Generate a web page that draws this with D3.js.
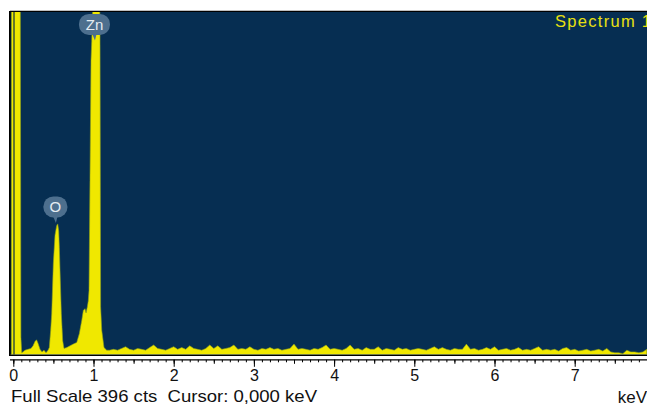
<!DOCTYPE html>
<html>
<head>
<meta charset="utf-8">
<script src="https://cdn.jsdelivr.net/npm/d3@7"></script>
<style>
  body { margin: 0; background: #fff; }
  svg { display: block; }
  text { font-family: "Liberation Sans", Arial, sans-serif; }
</style>
</head>
<body>
<div class="chart"></div>
<script>
// low energy part (keV, counts)
var lowEnergy = [-0.05, -0.024, -0.022, 0.082, 0.095, 0.105, 0.12, 0.146, 0.183, 0.22, 0.246, 0.27, 0.29, 0.308, 0.333, 0.358, 0.383, 0.408, 0.433,
  0.449, 0.466, 0.479, 0.499, 0.52, 0.541, 0.554, 0.566, 0.574, 0.586, 0.599, 0.616, 0.632, 0.666, 0.707, 0.748, 0.791, 0.823, 0.853, 0.873, 0.894, 0.907, 0.923, 0.935,
  0.944, 0.956, 0.969, 0.978, 0.99, 1.025, 1.056, 1.075, 1.081, 1.089, 1.103, 1.131, 1.165];
var lowCounts = [0, 0, 700, 700, 20, 2, 3, 5, 6, 7, 10, 15, 17, 13, 6, 3, 5, 2, 5,
  8, 28, 47, 105, 138, 149, 151, 143, 124, 86, 47, 16, 7, 8, 10, 12, 14, 24, 39, 51, 53, 48, 55, 62,
  74, 201, 340, 362, 400, 560, 480, 420, 380, 55, 28, 8, 5];

// background from 1.20 keV, one value each 0.05 keV
var bgStart = 1.2, bgStep = 0.05;
var bgCounts = [
  5,6,5,7,9,6,5,7,6,5,
  8,11,7,6,5,7,9,6,8,6,
  10,7,6,5,7,11,7,10,6,7,
  8,11,6,7,6,9,6,5,7,6,
  8,6,7,5,6,7,12,6,7,6,
  5,7,6,8,11,6,7,6,5,7,
  11,6,7,5,8,6,6,9,5,7,
  6,5,8,6,7,5,6,7,6,5,
  7,9,6,8,6,5,7,6,6,12,
  6,7,5,6,8,6,9,5,6,7,
  5,6,8,5,6,5,7,9,5,6,
  5,6,4,7,8,5,6,4,5,6,
  4,5,6,4,7,3,2,2,1,5,
  3,3,2,3,6];

// element markers: name, line energy, height the marker sits at
var peakNames = ["O", "Zn"];
var peakEnergies = [0.525, 1.012];
var peakCounts = [151, 362];

var tickLabels = [0, 1, 2, 3, 4, 5, 6, 7];
var fullScale = 396;
var title = "Spectrum 1";
var footer = "Full Scale 396 cts  Cursor: 0,000 keV";

var spectrum = [];
lowEnergy.forEach(function(e, i) { spectrum.push({e: e, c: lowCounts[i]}); });
bgCounts.forEach(function(c, i) { spectrum.push({e: bgStart + i * bgStep, c: c}); });

var width = 647, height = 407;
var plotL = 10, plotT = 12, plotR = 647, plotB = 354.5;

var svg = d3.select(".chart").append("svg").attr("width", width).attr("height", height);

var x = d3.scaleLinear().domain([0, 7]).range([13.3, 574.7]);
var y = d3.scaleLinear().domain([0, fullScale]).range([plotB, plotT]);

svg.append("defs").append("clipPath").attr("id", "plot")
  .append("rect").attr("x", plotL).attr("y", plotT).attr("width", plotR - plotL).attr("height", plotB - plotT);

svg.append("rect")
  .attr("x", plotL).attr("y", plotT).attr("width", plotR - plotL).attr("height", plotB - plotT)
  .attr("fill", "#062e52");

var area = d3.area()
  .x(function(d) { return x(d.e); })
  .y0(y(0))
  .y1(function(d) { return y(d.c); });

svg.append("path")
  .datum(spectrum)
  .attr("clip-path", "url(#plot)")
  .attr("d", area)
  .attr("fill", "#f0e800")
  .attr("stroke", "#8fa21a")
  .attr("stroke-width", 0.6);

// cursor at 0 keV
svg.append("line")
  .attr("x1", x(0) + 0.7).attr("x2", x(0) + 0.7)
  .attr("y1", plotT).attr("y2", plotB)
  .attr("stroke", "#2c4a3a").attr("stroke-width", 1.4);

// frame
svg.append("line").attr("x1", plotL).attr("x2", plotR).attr("y1", plotT - 0.6).attr("y2", plotT - 0.6)
  .attr("stroke", "#000").attr("stroke-width", 1.4);
svg.append("line").attr("x1", plotL - 0.2).attr("x2", plotL - 0.2).attr("y1", plotT - 1).attr("y2", plotB + 1.5)
  .attr("stroke", "#000").attr("stroke-width", 1.6);
svg.append("line").attr("x1", plotL).attr("x2", plotR).attr("y1", plotB + 0.9).attr("y2", plotB + 0.9)
  .attr("stroke", "#000").attr("stroke-width", 1.4);

// peak labels
var labels = svg.selectAll(".peak")
  .data(peakNames)
  .enter()
  .append("g")
  .attr("class", "peak")
  .attr("transform", function(d, i) {
    return "translate(" + x(peakEnergies[i]) + "," + (y(peakCounts[i]) - 17) + ")";
  });

labels.append("rect")
  .attr("x", function(d) { return d.length > 1 ? -15.5 : -12; })
  .attr("y", -10.5)
  .attr("width", function(d) { return d.length > 1 ? 31 : 24; })
  .attr("height", 21)
  .attr("rx", 10)
  .attr("fill", "#4d6f8e");

labels.append("path")
  .attr("d", "M-2,10 L2,10 L0.5,16 Z")
  .attr("fill", "#4d6f8e");

labels.append("text")
  .attr("text-anchor", "middle")
  .attr("dy", "0.36em")
  .attr("fill", "#e4ecf2")
  .style("font-size", "15px")
  .text(function(d) { return d; });

// x axis
var axisY = 359.8;
var minor = d3.range(0, 79).map(function(i) { return i / 10; });

svg.append("g")
  .attr("transform", "translate(0," + axisY + ")")
  .call(d3.axisBottom(x).tickValues(minor).tickSize(2.5).tickFormat("").tickSizeOuter(0))
  .call(function(g) {
    g.select(".domain").attr("d", "M" + plotL + ",0H" + plotR).attr("stroke-width", 1.3);
  });

svg.append("g")
  .attr("transform", "translate(0," + axisY + ")")
  .call(d3.axisBottom(x).tickValues(minor.filter(function(v) { return Math.round(v * 10) % 5 == 0; }))
    .tickSize(4).tickFormat(""))
  .call(function(g) { g.select(".domain").remove(); });

svg.append("g")
  .attr("transform", "translate(0," + axisY + ")")
  .call(d3.axisBottom(x).tickValues(tickLabels).tickSize(7).tickPadding(3).tickFormat(d3.format("d")))
  .call(function(g) {
    g.select(".domain").remove();
    g.selectAll("text").style("font-size", "16px").attr("fill", "#111")
      .attr("font-family", "Liberation Sans, Arial, sans-serif");
  });

svg.append("text")
  .attr("x", 555).attr("y", 27)
  .attr("fill", "#e8e010")
  .style("font-size", "16.5px")
  .attr("textLength", 96)
  .attr("lengthAdjust", "spacing")
  .text(title);

svg.append("text")
  .attr("x", 11).attr("y", 402)
  .attr("fill", "#111")
  .style("font-size", "17px")
  .style("white-space", "pre")
  .attr("textLength", 306)
  .attr("lengthAdjust", "spacingAndGlyphs")
  .text(footer);

svg.append("text")
  .attr("x", 647).attr("y", 403)
  .attr("text-anchor", "end")
  .attr("fill", "#111")
  .style("font-size", "17px")
  .text("keV");
</script>
</body>
</html>
